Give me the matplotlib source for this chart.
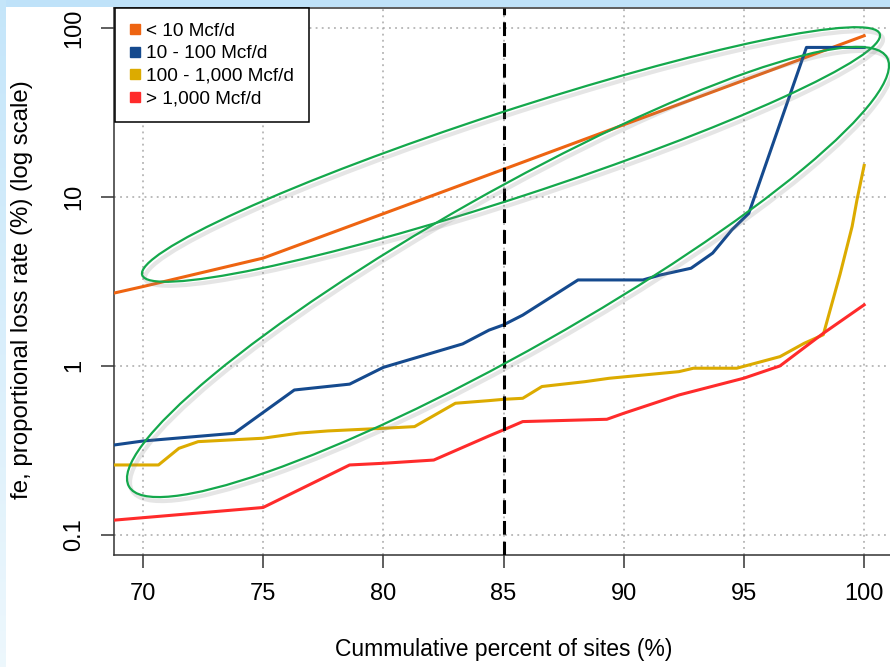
import numpy as np
import matplotlib.pyplot as plt
from matplotlib.patches import Ellipse
from matplotlib.lines import Line2D
from matplotlib.ticker import NullLocator

plt.rcParams['font.family'] = ['Liberation Sans', 'DejaVu Sans']

# values (cumulative percent of sites, loss rate %)
lt10_x = [68.8, 70, 75, 80, 85, 90, 95, 100]
lt10_y = [2.70, 2.95, 4.35, 7.97, 14.6, 26.8, 49.2, 90.3]

r10_100_x = [68.8, 70, 73.8, 76.3, 78.6, 80.0, 82.0, 83.3, 84.4, 85.0, 85.8, 88.1,
             90.8, 91.5, 92.8, 93.7, 94.5, 95.2, 97.6, 100]
r10_100_y = [0.34, 0.359, 0.399, 0.72, 0.78, 0.98, 1.19, 1.35, 1.63, 1.75, 2.0, 3.23,
             3.23, 3.45, 3.79, 4.66, 6.4, 8.0, 77, 77]

r100_1000_x = [68.8, 70.65, 71.5, 72.3, 75, 76.5, 77.7, 80, 81.3, 83.0, 84.4, 85.0,
               85.8, 86.6, 88.4, 89.4, 92.3, 92.9, 94.7, 96.5, 97.5, 98.3, 99.0,
               99.5, 99.7, 100]
r100_1000_y = [0.259, 0.259, 0.325, 0.356, 0.373, 0.40, 0.412, 0.427, 0.437, 0.601,
               0.623, 0.634, 0.643, 0.755, 0.807, 0.845, 0.925, 0.969, 0.969, 1.135,
               1.36, 1.53, 3.5, 6.7, 9.6, 15.4]

gt1000_x = [68.8, 75, 78.6, 80, 82.1, 84.4, 85.0, 85.8, 89.3, 90, 92.3, 95, 96.5,
            98.3, 100]
gt1000_y = [0.122, 0.145, 0.259, 0.265, 0.277, 0.385, 0.418, 0.468, 0.483, 0.524,
            0.673, 0.846, 1.0, 1.56, 2.30]

labels = ['< 10 Mcf/d', '10 - 100 Mcf/d', '100 - 1,000 Mcf/d', '> 1,000 Mcf/d']
colors = ['#EE6411', '#154A8E', '#DCAB00', '#FF2B2B']
series = [(lt10_x, lt10_y), (r10_100_x, r10_100_y),
          (r100_1000_x, r100_1000_y), (gt1000_x, gt1000_y)]

x_ticks = [70, 75, 80, 85, 90, 95, 100]
y_ticks = [0.1, 1, 10, 100]
y_ticklabels = ['0.1', '1', '10', '100']
cutoff = 85

W, H = 890, 667
fig = plt.figure(figsize=(W / 100, H / 100), dpi=100, facecolor='white')

# light blue slide frame (top and left)
top = np.ones((7, W, 3)) * np.array([0.75, 0.89, 0.98])
fig.figimage(top, xo=0, yo=H - 7)
fade = np.linspace(0, 1, H)[:, None, None]
left = np.array([0.77, 0.9, 0.98]) * (1 - fade) + np.array([0.93, 0.97, 0.99]) * fade
left = np.repeat(left, 6, axis=1)
fig.figimage(left, xo=0, yo=0)

ax = fig.add_axes([114 / W, 112 / H, 779 / W, 547 / H])
ax.set_yscale('log')
for (xs, ys), c in zip(series, colors):
    ax.plot(xs, ys, color=c, lw=2.2, solid_joinstyle='round', zorder=3)
ax.axvline(cutoff, color='black', lw=2.2, dashes=(4.5, 2.3), zorder=4)

ax.set_xlim(68.8, 101.2)
ax.set_ylim(10 ** -1.12, 10 ** 2.12)
ax.set_xticks(x_ticks)
ax.set_yticks(y_ticks)
ax.set_yticklabels(y_ticklabels)
ax.yaxis.set_minor_locator(NullLocator())
ax.grid(True, color='#A8A8A8', linestyle=(0, (1.2, 2.8)), lw=1.1)
ax.set_axisbelow(True)
for s in ax.spines.values():
    s.set_color('#333333')
    s.set_linewidth(1.1)
ax.tick_params(length=9.5, width=1.1, color='#333333', labelsize=17, pad=11)
ax.tick_params(axis='y', labelrotation=90)
for t in ax.get_yticklabels():
    t.set_va('center')

ax.set_xlabel('Cummulative percent of sites (%)', fontsize=16.5)
ax.xaxis.set_label_coords(0.5, -0.152)
ax.set_ylabel('fe, proportional loss rate (%) (log scale)', fontsize=17.3)
ax.yaxis.set_label_coords(-0.104, 0.485)

handles = [Line2D([], [], marker='s', color=c, linestyle='none', markersize=6.5)
           for c in colors]
leg = ax.legend(handles, labels, loc='upper left', bbox_to_anchor=(0.0013, 1.0),
                borderaxespad=0, fontsize=13.7, fancybox=False, edgecolor='black',
                framealpha=1, borderpad=0.75, labelspacing=0.28, handlelength=0.6,
                handletextpad=0.3)
leg.get_frame().set_linewidth(1.1)

# hand-drawn green ellipses (image pixel coordinates)
ov = fig.add_axes([0, 0, 1, 1])
ov.set_xlim(0, W)
ov.set_ylim(H, 0)
ov.axis('off')
ellipses = [(511, 154.5, 776, 86, -18.1), (508, 272, 871, 157, -29.5)]
for cx, cy, w, h, a in ellipses:
    ov.add_patch(Ellipse((cx + 3, cy + 4), w, h, angle=a, fill=False,
                         ec='#808080', lw=3, alpha=0.2))
    ov.add_patch(Ellipse((cx, cy), w, h, angle=a, fill=False, ec='#14A84C', lw=1.6))

fig.savefig('out.png', dpi=100, facecolor=fig.get_facecolor())
